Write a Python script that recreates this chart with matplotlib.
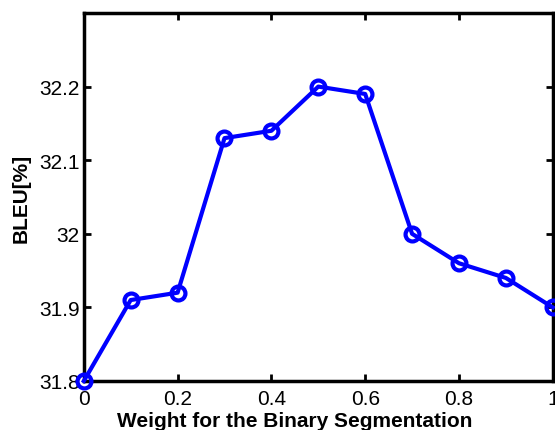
import matplotlib
matplotlib.use('Agg')
import matplotlib.pyplot as plt

weights = [0, 0.1, 0.2, 0.3, 0.4, 0.5, 0.6, 0.7, 0.8, 0.9, 1.0]
bleu = [31.80, 31.91, 31.92, 32.13, 32.14, 32.20, 32.19, 32.00, 31.96, 31.94, 31.90]
xticks = [0, 0.2, 0.4, 0.6, 0.8, 1]
xlabels = ['0', '0.2', '0.4', '0.6', '0.8', '1']
yticks = [31.8, 31.9, 32.0, 32.1, 32.2]
ylabels = ['31.8', '31.9', '32', '32.1', '32.2']

plt.rcParams['font.family'] = ['Liberation Sans', 'DejaVu Sans']

fig = plt.figure(figsize=(5.55, 4.31), dpi=100)
ax = fig.add_axes([0.151, 0.1137, 0.845, 0.8538])

ax.plot(weights, bleu, color='#0000ff', linewidth=3, marker='o', markersize=10,
        markerfacecolor='none', markeredgewidth=3, clip_on=False, zorder=3)

ax.set_xlim(0, 1)
ax.set_ylim(31.8, 32.3)
ax.set_xticks(xticks)
ax.set_xticklabels(xlabels)
ax.set_yticks(yticks)
ax.set_yticklabels(ylabels)
ax.tick_params(direction='in', top=True, right=True, length=5, width=2,
               labelsize=15)
ax.tick_params(axis='x', pad=6)
ax.tick_params(axis='y', pad=3)
for s in ax.spines.values():
    s.set_linewidth(2.5)

ax.set_xlabel('Weight for the Binary Segmentation', fontsize=15, fontweight='bold')
ax.xaxis.set_label_coords(0.45, -0.108, transform=ax.transAxes)
ax.xaxis.label.set_va('center')
ax.set_ylabel('BLEU[%]', fontsize=15, fontweight='bold', labelpad=6)

fig.savefig('out.png', dpi=100)
